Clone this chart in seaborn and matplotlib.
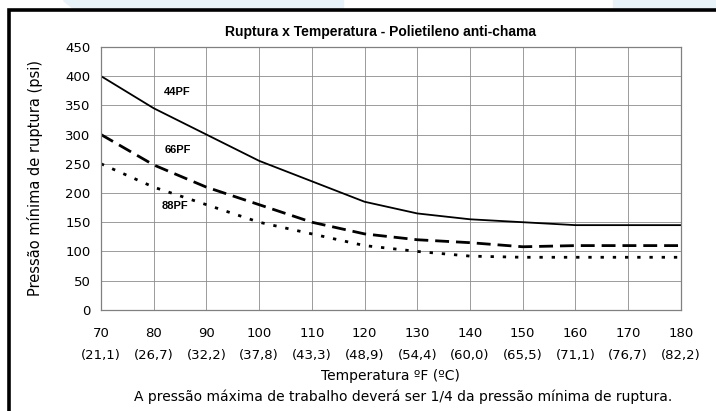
import pandas as pd
import seaborn as sns
import matplotlib.pyplot as plt
from matplotlib.patches import Rectangle, Polygon

temp_f = [70, 80, 90, 100, 110, 120, 130, 140, 150, 160, 170, 180]
temp_c = ["21,1", "26,7", "32,2", "37,8", "43,3", "48,9",
          "54,4", "60,0", "65,5", "71,1", "76,7", "82,2"]
psi_44pf = [400, 345, 300, 255, 220, 185, 165, 155, 150, 145, 145, 145]
psi_66pf = [300, 248, 210, 180, 150, 130, 120, 115, 108, 110, 110, 110]
psi_88pf = [250, 210, 180, 150, 130, 110, 100, 92, 90, 90, 90, 90]
series = ["44PF", "66PF", "88PF"]

df = pd.DataFrame({
    "temp": temp_f * 3,
    "psi": psi_44pf + psi_66pf + psi_88pf,
    "tubo": [s for s in series for _ in temp_f],
})

sns.set_style("white")
plt.rcParams["font.family"] = ["DejaVu Sans"]
plt.rcParams["text.color"] = "black"
plt.rcParams["axes.labelcolor"] = "black"

fig = plt.figure(figsize=(7.16, 4.11), dpi=100)
ax = fig.add_axes([0.141, 0.246, 0.810, 0.640])

# light blue watermark shapes above the frame
fig.patches.append(Polygon([[63/716, 1], [343/716, 1], [343/716, 0.975], [75/716, 0.975]],
                           closed=True, transform=fig.transFigure, color="#e8f2f9", zorder=0))
fig.patches.append(Polygon([[613/716, 1], [716/716, 1], [716/716, 0.975], [613/716, 0.975]],
                           closed=True, transform=fig.transFigure, color="#e8f2f9", zorder=0))
# black frame
fig.patches.append(Rectangle((9/716, -0.05), 1.0, 1 - 10/411 + 0.05, transform=fig.transFigure,
                             fill=False, edgecolor="black", linewidth=2.6, zorder=1))

sns.lineplot(data=df, x="temp", y="psi", style="tubo", color="black",
             dashes={"44PF": "", "66PF": (5, 2.5), "88PF": (1.2, 3.2)},
             legend=False, ax=ax)
for line, lw in zip(ax.lines, [1.3, 2.0, 2.0]):
    line.set_linewidth(lw)

ax.set_xlim(70, 180)
ax.set_ylim(0, 450)
ax.set_xticks(temp_f)
ax.set_xticklabels([f"{f}\n({c})" for f, c in zip(temp_f, temp_c)], linespacing=1.9)
ax.set_yticks(range(0, 451, 50))
ax.tick_params(axis="both", labelsize=9.5, colors="#808080", labelcolor="black",
               length=4, width=0.8, direction="out")
ax.tick_params(axis="x", pad=8)
ax.grid(True, color="#8c8c8c", linewidth=0.6)
for sp in ax.spines.values():
    sp.set_color("#808080")
    sp.set_linewidth(0.9)

ax.set_xlabel("")
ax.set_ylabel("Pressão mínima de ruptura (psi)", fontsize=10.5, labelpad=16)

for name, x, y in [("44PF", 84.5, 372), ("66PF", 84.5, 274), ("88PF", 84, 178)]:
    ax.text(x, y, name, fontsize=8, fontweight="bold", ha="center", va="center",
            family="Liberation Sans")

fig.text(0.531, 0.922, "Ruptura x Temperatura - Polietileno anti-chama",
         ha="center", va="center", fontsize=10, fontweight="bold", family="Liberation Sans")
fig.text(0.546, 0.085, "Temperatura ºF (ºC)", ha="center", va="center", fontsize=10)
fig.text(0.563, 0.034, "A pressão máxima de trabalho deverá ser 1/4 da pressão mínima de ruptura.",
         ha="center", va="center", fontsize=10)

fig.savefig("out.png", dpi=100)
